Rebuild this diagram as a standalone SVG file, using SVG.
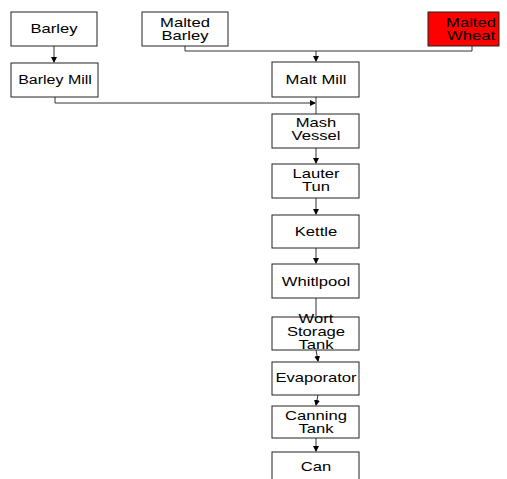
<svg xmlns="http://www.w3.org/2000/svg" width="507" height="479" viewBox="0 0 507 479">
<defs>
<style>
.box{fill:#fff;stroke:#222;stroke-width:1}
.red{fill:#ff0000;stroke:#222;stroke-width:1}
.t{font-family:"Liberation Sans",Arial,sans-serif;font-size:12.5px;fill:#000;text-anchor:middle}
.c{fill:none;stroke:#333;stroke-width:1}
</style>
<marker id="ah" markerWidth="6" markerHeight="6" refX="5" refY="3" orient="auto" markerUnits="userSpaceOnUse">
<path d="M0,0 L6,3 L0,6 Z" fill="#000"/>
</marker>
</defs>
<g id="connectors">
<path class="c" d="M54,46 V62" marker-end="url(#ah)"/>
<path class="c" d="M185,46 V51 H472 V46"/>
<path class="c" d="M316,51 V61" marker-end="url(#ah)"/>
<path class="c" d="M55,97 V103 H315" marker-end="url(#ah)"/>
<path class="c" d="M316,97 V114"/>
<path class="c" d="M316,148 V163" marker-end="url(#ah)"/>
<path class="c" d="M316,198 V214" marker-end="url(#ah)"/>
<path class="c" d="M316,248 V263" marker-end="url(#ah)"/>
<path class="c" d="M316,298 V316"/>
<path class="c" d="M316,350 L318,361" marker-end="url(#ah)"/>
<path class="c" d="M318,395 L316,405" marker-end="url(#ah)"/>
<path class="c" d="M316,437 V451" marker-end="url(#ah)"/>
</g>
<g id="barley"><rect class="box" x="11" y="12" width="86" height="34"/><text class="t" transform="translate(54,33) scale(1.33,1)">Barley</text></g>
<g id="malted-barley"><rect class="box" x="142" y="12" width="86" height="34"/><text class="t" transform="translate(185,27) scale(1.33,1)">Malted</text><text class="t" transform="translate(185,40) scale(1.33,1)">Barley</text></g>
<g id="malted-wheat"><rect class="red" x="428" y="12" width="71" height="34"/><text class="t" transform="translate(471,27) scale(1.33,1)">Malted</text><text class="t" transform="translate(471,40) scale(1.33,1)">Wheat</text></g>
<g id="barley-mill"><rect class="box" x="11" y="63" width="87" height="34"/><text class="t" transform="translate(55,84) scale(1.28,1)">Barley Mill</text></g>
<g id="malt-mill"><rect class="box" x="272" y="62" width="87" height="35"/><text class="t" transform="translate(316,84) scale(1.33,1)">Malt Mill</text></g>
<g id="mash-vessel"><rect class="box" x="272" y="114" width="87" height="34"/><text class="t" transform="translate(316,127) scale(1.33,1)">Mash</text><text class="t" transform="translate(316,140) scale(1.33,1)">Vessel</text></g>
<g id="lauter-tun"><rect class="box" x="272" y="164" width="87" height="34"/><text class="t" transform="translate(316,178) scale(1.33,1)">Lauter</text><text class="t" transform="translate(316,191) scale(1.33,1)">Tun</text></g>
<g id="kettle"><rect class="box" x="272" y="215" width="87" height="33"/><text class="t" transform="translate(316,236) scale(1.33,1)">Kettle</text></g>
<g id="whitlpool"><rect class="box" x="272" y="264" width="87" height="34"/><text class="t" transform="translate(316,286) scale(1.33,1)">Whitlpool</text></g>
<g id="wort-storage-tank"><rect class="box" x="272" y="317" width="87" height="33"/><text class="t" transform="translate(316,323) scale(1.33,1)">Wort</text><text class="t" transform="translate(316,336) scale(1.33,1)">Storage</text><text class="t" transform="translate(316,349) scale(1.33,1)">Tank</text></g>
<g id="evaporator"><rect class="box" x="272" y="362" width="87" height="33"/><text class="t" transform="translate(316,382) scale(1.33,1)">Evaporator</text></g>
<g id="canning-tank"><rect class="box" x="272" y="406" width="87" height="32"/><text class="t" transform="translate(316,420) scale(1.33,1)">Canning</text><text class="t" transform="translate(316,433) scale(1.33,1)">Tank</text></g>
<g id="can"><rect class="box" x="272" y="452" width="87" height="40"/><text class="t" transform="translate(316,471) scale(1.33,1)">Can</text></g>
</svg>
